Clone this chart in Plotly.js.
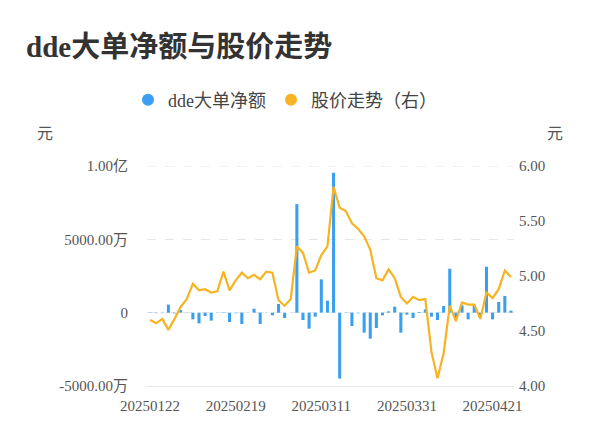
<!DOCTYPE html>
<html>
<head>
<meta charset="utf-8">
<script src="https://cdn.plot.ly/plotly-3.0.1.min.js"></script>
<style>
  html, body { margin: 0; padding: 0; background: #fff; }
  #chart { width: 600px; height: 446px; }
</style>
</head>
<body>
<div id="chart"></div>
<script>
// trading days
const dates = [
  '20250122','20250123','20250124','20250127',
  '20250205','20250206','20250207','20250210','20250211','20250212','20250213','20250214',
  '20250217','20250218','20250219','20250220','20250221','20250224','20250225','20250226','20250227','20250228',
  '20250303','20250304','20250305','20250306','20250307','20250310','20250311','20250312','20250313','20250314',
  '20250317','20250318','20250319','20250320','20250321','20250324','20250325','20250326','20250327','20250328','20250331',
  '20250401','20250402','20250403','20250407','20250408','20250409','20250410','20250411',
  '20250414','20250415','20250416','20250417','20250418','20250421','20250422','20250423','20250424'
];

// dde net amount, unit: 万元
const ddeNet = [
  -20, -30, -30, 545, -50, 180, -10, -454, -730, -227,
  -545, -20, -20, -636, -40, -772, -20, 270, -772, -20,
  -180, 590, -363, 10, 7400, -500, -1090, -272, 2270, 817,
  9540, -4495, -20, -908, -40, -1362, -1770, -1044, -182, 90,
  409, -1362, -136, -363, 45, 227, -272, -500, 454, 2996,
  -363, 500, -454, 500, -227, 3130, -454, 726, 1135, 140
];

// close price, unit: 元
const price = [
  4.60, 4.57, 4.61, 4.51, 4.61, 4.72, 4.79, 4.93, 4.87, 4.88,
  4.85, 4.86, 5.04, 4.87, 4.96, 5.03, 4.98, 5.01, 4.97, 5.04,
  5.03, 4.78, 4.73, 4.79, 5.27, 5.21, 5.03, 5.05, 5.19, 5.27,
  5.81, 5.62, 5.59, 5.48, 5.43, 5.36, 5.24, 4.98, 4.96, 5.06,
  4.98, 4.81, 4.75, 4.81, 4.78, 4.79, 4.31, 4.07, 4.30, 4.73,
  4.59, 4.76, 4.74, 4.74, 4.61, 4.85, 4.80, 4.88, 5.05, 4.99
];

const xTicks = ['20250122','20250219','20250311','20250331','20250421'];
const leftTicks = [-5000, 0, 5000, 10000];
const leftTickText = ['-5000.00万', '0', '5000.00万', '1.00亿'];
const rightTicks = [4, 4.5, 5, 5.5, 6];
const rightTickText = ['4.00', '4.50', '5.00', '5.50', '6.00'];

const BLUE = '#3a9ff0';
const ORANGE = '#f7b322';
const FONT = '"Liberation Serif", "Noto Sans CJK SC", serif';

const traces = [
  {
    type: 'bar', x: dates, y: ddeNet, name: 'dde大单净额',
    marker: { color: BLUE }, width: 0.5, showlegend: false
  },
  {
    type: 'scatter', mode: 'lines', x: dates, y: price, yaxis: 'y2',
    name: '股价走势（右）', line: { color: ORANGE, width: 2.2 }, showlegend: false
  },
  // legend entries with round markers
  {
    type: 'scatter', mode: 'markers', x: [null], y: [null], name: 'dde大单净额',
    marker: { color: BLUE, size: 9, symbol: 'circle' }
  },
  {
    type: 'scatter', mode: 'markers', x: [null], y: [null], name: '股价走势（右）', yaxis: 'y2',
    marker: { color: ORANGE, size: 9, symbol: 'circle' }
  }
];

const layout = {
  width: 600, height: 446,
  margin: { l: 147, r: 86, t: 166, b: 60, pad: 0 },
  paper_bgcolor: '#fff', plot_bgcolor: '#fff',
  font: { family: FONT, color: '#666', size: 14 },
  title: {
    text: '<b>dde大单净额与股价走势</b>',
    font: { family: FONT, size: 29, color: '#333' },
    x: 26 / 600, xanchor: 'left', xref: 'container',
    y: 1 - 47 / 446, yanchor: 'middle', yref: 'container'
  },
  showlegend: true,
  legend: {
    orientation: 'h', xref: 'container', yref: 'container',
    x: 0.475, xanchor: 'center', y: 1 - 100 / 446, yanchor: 'middle',
    font: { family: FONT, size: 18, color: '#444' },
    itemsizing: 'constant', itemwidth: 30, tracegroupgap: 0
  },
  xaxis: {
    type: 'category', tickmode: 'array', tickvals: xTicks, ticktext: xTicks,
    showgrid: false, zeroline: false, ticks: '',
    showline: true, linecolor: '#e6e6e6', linewidth: 1,
    tickfont: { family: FONT, size: 15, color: '#555' },
    ticklabelstandoff: 6, fixedrange: true
  },
  yaxis: {
    range: [-5000, 10000], tickmode: 'array', tickvals: leftTicks, ticktext: leftTickText,
    showgrid: true, gridcolor: '#e6e6e6', griddash: 'dash', gridwidth: 1,
    zeroline: false, ticks: '', showline: false,
    tickfont: { family: FONT, size: 15, color: '#555' },
    ticklabelstandoff: 18, fixedrange: true
  },
  yaxis2: {
    overlaying: 'y', side: 'right', range: [4, 6],
    tickmode: 'array', tickvals: rightTicks, ticktext: rightTickText,
    showgrid: false, zeroline: false, ticks: '', showline: false,
    tickfont: { family: FONT, size: 15, color: '#555' },
    ticklabelstandoff: 4, fixedrange: true
  },
  bargap: 0.5,
  shapes: [
    // top grid line at 1.00亿 (plotly skips grid on the range edge)
    {
      type: 'line', xref: 'paper', yref: 'y', x0: 0, x1: 1, y0: 10000, y1: 10000,
      line: { color: '#e6e6e6', width: 1, dash: 'dash' }, layer: 'below'
    }
  ],
  annotations: [
    {
      text: '元', xref: 'paper', yref: 'paper',
      x: (45 - 147) / 367, y: (386 - 133) / 220, xanchor: 'center', yanchor: 'middle',
      showarrow: false, font: { family: FONT, size: 16, color: '#555' }
    },
    {
      text: '元', xref: 'paper', yref: 'paper',
      x: (555 - 147) / 367, y: (386 - 133) / 220, xanchor: 'center', yanchor: 'middle',
      showarrow: false, font: { family: FONT, size: 16, color: '#555' }
    }
  ]
};

Plotly.newPlot('chart', traces, layout, { displayModeBar: false, staticPlot: true });
</script>
</body>
</html>
